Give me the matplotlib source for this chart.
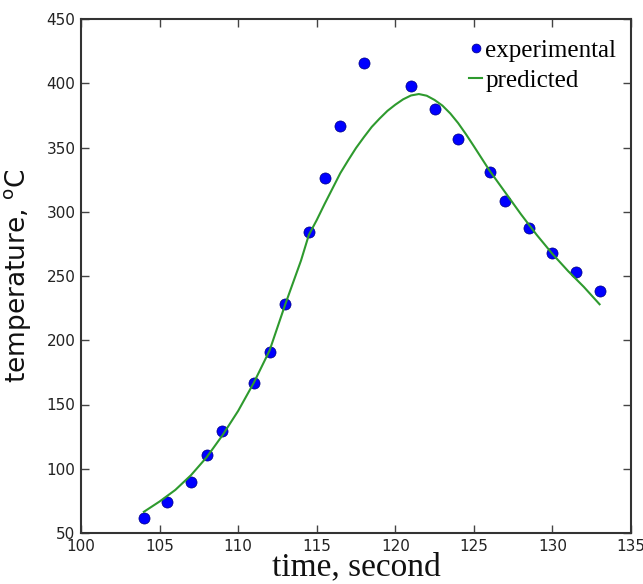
import matplotlib
matplotlib.use("Agg")
import matplotlib.pyplot as plt

# experimental data
time_exp = [104, 105.5, 107, 108, 109, 111, 112, 113, 114.5, 115.5, 116.5, 118,
            121, 122.5, 124, 126, 127, 128.5, 130, 131.5, 133]
temp_exp = [62, 74, 90, 111, 129, 167, 191, 228, 284, 326, 367, 416,
            398, 380, 357, 331, 308, 287, 268, 253, 238]

# predicted curve
time_pred = [104, 105, 106, 107, 108, 109, 110, 111, 112, 113, 114, 114.5, 115,
             115.5, 116, 116.5, 117, 117.5, 118, 118.5, 119, 119.5, 120, 120.5,
             121, 121.5, 122, 122.5, 123, 123.5, 124, 124.5, 125, 126, 127, 128,
             129, 130, 131, 132, 133]
temp_pred = [66.5, 74.5, 83.5, 95, 109, 126, 145, 167, 192, 228, 262, 282, 293.5,
             306, 318, 330, 340, 349.6, 358, 366, 372.5, 378.5, 383.3, 387.5,
             390.5, 391.6, 390.3, 387, 382.6, 376.5, 369, 360.3, 351, 332, 315, 298,
             282, 267.2, 253.8, 241.5, 228]

xticks = [100, 105, 110, 115, 120, 125, 130, 135]
yticks = [50, 100, 150, 200, 250, 300, 350, 400, 450]

fig = plt.figure(figsize=(6.43, 5.84), dpi=100)
ax = fig.add_axes([81/643, 51/584, 550/643, 514/584])

ax.plot(time_exp, temp_exp, linestyle='none', marker='o', markersize=8,
        markerfacecolor='#0000ff', markeredgecolor='#000080', markeredgewidth=0.5,
        label='experimental')
ax.plot(time_pred, temp_pred, color='#2e9a2e', linewidth=1.5, label='predicted')

ax.set_xlim(100, 135)
ax.set_ylim(50, 450)
ax.set_xticks(xticks)
ax.set_yticks(yticks)
ax.tick_params(direction='in', top=True, right=True, length=6, width=1,
               color='#444444', labelsize=11, labelcolor='#222222', pad=4)
for s in ax.spines.values():
    s.set_linewidth(1.5)
    s.set_color('#333333')

ax.set_ylabel(r'temperature, $^{\mathrm{o}}$C', fontsize=19, family='DejaVu Sans',
              color='#111111', labelpad=10)
ax.set_xlabel('time, second', fontsize=24, family='Liberation Serif',
              color='#111111', labelpad=-1)

leg = ax.legend(loc='upper right', bbox_to_anchor=(1 + 8/550, 1 + 2/514),
                frameon=False, numpoints=1, handlelength=0.5,
                handletextpad=0.15, prop={'family': 'Liberation Serif', 'size': 18},
                borderaxespad=0.5, labelspacing=0.3, markerscale=0.8)

fig.savefig('out.png', dpi=100)
